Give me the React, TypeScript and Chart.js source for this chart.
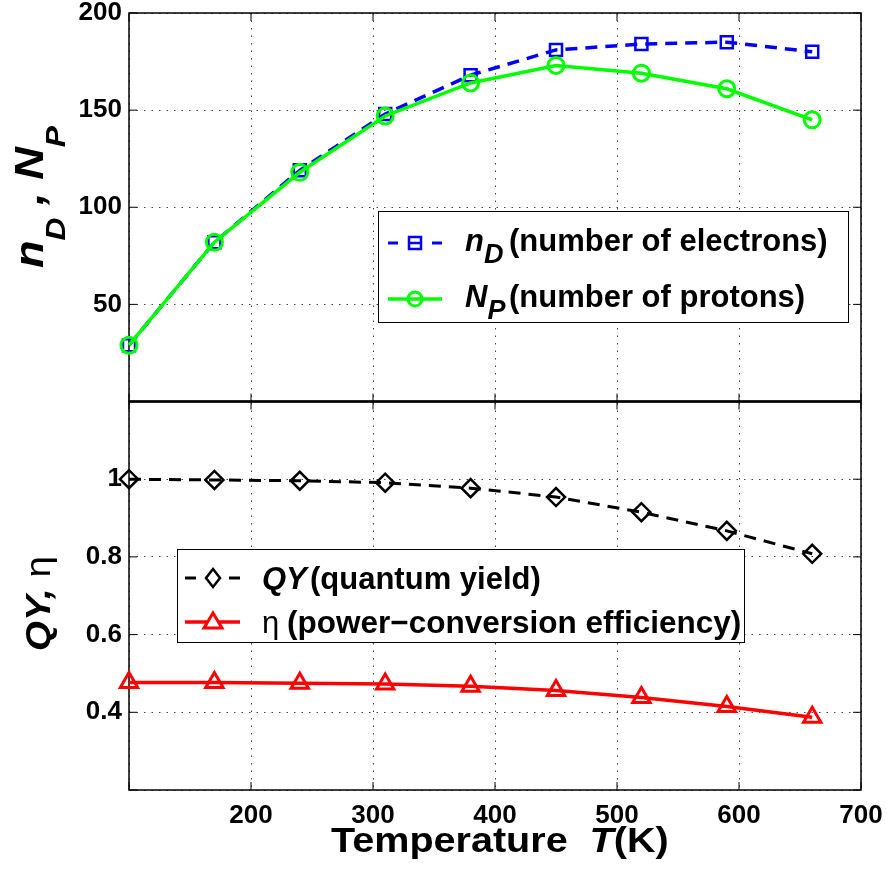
import React, { useEffect, useRef } from 'react';
import { Chart, registerables } from 'chart.js';

Chart.register(...registerables);

// ---------- data ----------
const temperatures = [100, 170, 240, 310, 380, 450, 520, 590, 660];
const electronsND = [29, 82, 119, 148, 168, 181, 184, 185, 180];
const protonsNP = [29, 82, 118, 147, 164, 173, 169, 161, 145];
const quantumYield = [1.0, 0.998, 0.996, 0.991, 0.977, 0.954, 0.915, 0.867, 0.808];
const efficiency = [0.477, 0.477, 0.475, 0.473, 0.467, 0.456, 0.438, 0.415, 0.387];

const xTickValues = [100, 200, 300, 400, 500, 600, 700];
const topTickValues = [0, 50, 100, 150, 200];
const bottomTickValues = [0.2, 0.4, 0.6, 0.8, 1.0, 1.2];

const legendTopLabels = ['(number of electrons)', '(number of protons)'];
const legendBottomLabels = ['(quantum yield)', '(power\u2212conversion efficiency)'];

const FONT = '"Liberation Sans", Arial, Helvetica, sans-serif';
const BLUE = '#0000ff';
const GREEN = '#00ff00';
const RED = '#ff0000';
const BLACK = '#000000';

const toPoints = (ys: number[]) => temperatures.map((x, i) => ({ x, y: ys[i] }));

type Part = { text: string; font: string; dy?: number };

function drawParts(ctx: CanvasRenderingContext2D, parts: Part[], x: number, y: number, rotate = false, sx = 1) {
  ctx.save();
  ctx.translate(x, y);
  if (rotate) ctx.rotate(-Math.PI / 2);
  ctx.scale(sx, 1);
  ctx.textAlign = 'left';
  ctx.textBaseline = 'alphabetic';
  ctx.fillStyle = BLACK;
  let cx = 0;
  for (const p of parts) {
    ctx.font = p.font;
    ctx.fillText(p.text, cx, p.dy || 0);
    cx += ctx.measureText(p.text).width;
  }
  ctx.restore();
}

function line(ctx: CanvasRenderingContext2D, x1: number, y1: number, x2: number, y2: number) {
  ctx.beginPath();
  ctx.moveTo(x1, y1);
  ctx.lineTo(x2, y2);
  ctx.stroke();
}

const zeroPad = (s: any) => {
  s.paddingLeft = 0;
  s.paddingRight = 0;
  s.paddingTop = 0;
  s.paddingBottom = 0;
};

const framePlugin = {
  id: 'matlabFrame',
  beforeDatasetsDraw(chart: any) {
    const ctx: CanvasRenderingContext2D = chart.ctx;
    const xs = chart.scales.x;
    const panels = [chart.scales.yTop, chart.scales.yBot];
    ctx.save();
    ctx.strokeStyle = BLACK;
    ctx.setLineDash([]);
    for (const ys of panels) {
      ctx.lineWidth = 1;
      for (const t of xTickValues) {
        const px = xs.getPixelForValue(t);
        line(ctx, px, ys.top, px, ys.top + 8);
        line(ctx, px, ys.bottom, px, ys.bottom - 8);
      }
      for (const t of ys.ticks) {
        const py = ys.getPixelForValue(t.value);
        line(ctx, xs.left, py, xs.left + 8, py);
        line(ctx, xs.right, py, xs.right - 8, py);
      }
      ctx.lineWidth = 1.5;
      ctx.strokeRect(xs.left, ys.top, xs.right - xs.left, ys.bottom - ys.top);
    }
    ctx.lineWidth = 2.5;
    line(ctx, xs.left, panels[0].bottom, xs.right, panels[0].bottom);
    ctx.restore();
  },
  afterDraw(chart: any) {
    const ctx: CanvasRenderingContext2D = chart.ctx;
    const bi = (s: number) => `italic bold ${s}px ${FONT}`;
    const b = (s: number) => `bold ${s}px ${FONT}`;
    const n = (s: number) => `${s}px ${FONT}`;

    // y-axis labels
    drawParts(ctx, [
      { text: 'n', font: bi(40) },
      { text: 'D', font: bi(28), dy: 22 },
      { text: ' , ', font: bi(40) },
      { text: 'N', font: bi(40) },
      { text: 'P', font: bi(28), dy: 22 },
    ], 43, 268, true, 1.13);
    drawParts(ctx, [
      { text: 'QY, ', font: bi(35) },
      { text: '\u03b7', font: n(35) },
    ], 50, 651, true, 1.1);

    // x-axis title
    drawParts(ctx, [
      { text: 'Temperature  ', font: b(35) },
      { text: 'T', font: bi(35) },
      { text: '(K)', font: b(35) },
    ], 331, 852, false, 1.13);

    // ---- top legend ----
    ctx.save();
    ctx.fillStyle = '#fff';
    ctx.strokeStyle = BLACK;
    ctx.lineWidth = 1;
    ctx.fillRect(378.5, 211.5, 470, 111);
    ctx.strokeRect(378.5, 211.5, 470, 111);
    let ly = 243;
    ctx.strokeStyle = BLUE;
    ctx.lineWidth = 3;
    line(ctx, 388, ly, 398, ly);
    line(ctx, 432, ly, 442, ly);
    ctx.lineWidth = 2.5;
    ctx.strokeRect(409, ly - 6, 12, 12);
    line(ctx, 409, ly, 421, ly);
    ctx.restore();
    drawParts(ctx, [
      { text: 'n', font: bi(31) },
      { text: 'D', font: bi(27), dy: 12 },
    ], 465, ly + 8);
    drawParts(ctx, [{ text: legendTopLabels[0], font: b(31) }], 509, ly + 8);
    ly = 299;
    ctx.save();
    ctx.strokeStyle = GREEN;
    ctx.lineWidth = 3.5;
    line(ctx, 388, ly, 442, ly);
    ctx.lineWidth = 3;
    ctx.beginPath();
    ctx.arc(415, ly, 7, 0, Math.PI * 2);
    ctx.stroke();
    ctx.restore();
    drawParts(ctx, [
      { text: 'N', font: bi(31) },
      { text: 'P', font: bi(27), dy: 12 },
    ], 465, ly + 8);
    drawParts(ctx, [{ text: legendTopLabels[1], font: b(31) }], 509, ly + 8);

    // ---- bottom legend ----
    ctx.save();
    ctx.fillStyle = '#fff';
    ctx.strokeStyle = BLACK;
    ctx.lineWidth = 1;
    ctx.fillRect(177.5, 549.5, 567, 93);
    ctx.strokeRect(177.5, 549.5, 567, 93);
    ly = 578;
    ctx.lineWidth = 3;
    line(ctx, 185, ly, 196, ly);
    line(ctx, 229, ly, 240, ly);
    ctx.lineWidth = 2.5;
    ctx.beginPath();
    ctx.moveTo(213, ly - 9);
    ctx.lineTo(220, ly);
    ctx.lineTo(213, ly + 9);
    ctx.lineTo(206, ly);
    ctx.closePath();
    ctx.stroke();
    ctx.restore();
    drawParts(ctx, [{ text: 'QY', font: bi(31) }], 262, ly + 11);
    drawParts(ctx, [{ text: legendBottomLabels[0], font: b(31) }], 310, ly + 11);
    ly = 622;
    ctx.save();
    ctx.strokeStyle = RED;
    ctx.lineWidth = 3.5;
    line(ctx, 185, ly, 240, ly);
    ctx.lineWidth = 3;
    ctx.fillStyle = '#fff';
    ctx.beginPath();
    ctx.moveTo(213, ly - 9);
    ctx.lineTo(222, ly + 6);
    ctx.lineTo(204, ly + 6);
    ctx.closePath();
    ctx.fill();
    ctx.stroke();
    ctx.restore();
    drawParts(ctx, [{ text: '\u03b7', font: n(31) }], 262, ly + 11);
    drawParts(ctx, [{ text: legendBottomLabels[1], font: b(31.5) }], 287, ly + 11);
  },
};

export default function App() {
  const ref = useRef<HTMLCanvasElement | null>(null);

  useEffect(() => {
    document.body.style.margin = '0';
    const canvas = ref.current;
    if (!canvas) return;
    const tickFont = { family: FONT, size: 26, weight: 'bold' as const };
    const gridCommon = { color: '#444', lineWidth: 1, drawTicks: false };
    const borderCommon = { display: false, dash: [1.5, 6] };

    const chart = new Chart(canvas, {
      type: 'line',
      data: {
        datasets: [
          {
            label: 'N_P',
            data: toPoints(protonsNP),
            yAxisID: 'yTop',
            borderColor: GREEN,
            borderWidth: 3.5,
            pointStyle: 'circle',
            pointRadius: 8,
            pointBorderWidth: 3,
            pointBorderColor: GREEN,
            pointBackgroundColor: 'rgba(0,0,0,0)',
            clip: false as any,
            order: 0,
          },
          {
            label: 'n_D',
            data: toPoints(electronsND),
            yAxisID: 'yTop',
            borderColor: BLUE,
            borderWidth: 3.5,
            borderDash: [12, 8],
            pointStyle: 'rect',
            pointRadius: 8.5,
            pointBorderWidth: 2.5,
            pointBorderColor: BLUE,
            pointBackgroundColor: 'rgba(0,0,0,0)',
            clip: false as any,
            order: 1,
          },
          {
            label: 'QY',
            data: toPoints(quantumYield),
            yAxisID: 'yBot',
            borderColor: BLACK,
            borderWidth: 3,
            borderDash: [12, 8],
            pointStyle: 'rectRot',
            pointRadius: 9,
            pointBorderWidth: 2.5,
            pointBorderColor: BLACK,
            pointBackgroundColor: 'rgba(0,0,0,0)',
            clip: false as any,
            order: 2,
          },
          {
            label: 'eta',
            data: toPoints(efficiency),
            yAxisID: 'yBot',
            borderColor: RED,
            borderWidth: 3.5,
            pointStyle: 'triangle',
            pointRadius: 10,
            pointBorderWidth: 3,
            pointBorderColor: RED,
            pointBackgroundColor: 'rgba(0,0,0,0)',
            clip: false as any,
            order: 3,
          },
        ],
      },
      options: {
        responsive: false,
        animation: false,
        devicePixelRatio: 1,
        events: [],
        layout: { padding: { left: 0, right: 26, top: 13, bottom: 0 } },
        plugins: { legend: { display: false }, tooltip: { enabled: false } },
        scales: {
          x: {
            type: 'linear',
            position: 'bottom',
            min: 100,
            max: 700,
            afterBuildTicks: (s: any) => { s.ticks = xTickValues.map((v) => ({ value: v })); },
            afterFit: (s: any) => { s.height = 85; zeroPad(s); },
            ticks: {
              font: tickFont,
              color: BLACK,
              padding: 10,
              maxRotation: 0,
              autoSkip: false,
              callback: (v: any) => (v === 100 ? '' : String(v)),
            },
            grid: gridCommon,
            border: borderCommon,
          },
          yBot: {
            type: 'linear',
            position: 'left',
            stack: 'panels',
            stackWeight: 1,
            min: 0.2,
            max: 1.2,
            afterBuildTicks: (s: any) => { s.ticks = bottomTickValues.map((v) => ({ value: v })); },
            afterFit: (s: any) => { s.width = 129; zeroPad(s); },
            ticks: {
              font: tickFont,
              color: BLACK,
              padding: 7,
              autoSkip: false,
              callback: (v: any) => {
                const num = Number(v);
                if (num < 0.3 || num > 1.1) return '';
                return Math.abs(num - 1) < 1e-9 ? '1' : num.toFixed(1);
              },
            },
            grid: gridCommon,
            border: borderCommon,
          },
          yTop: {
            type: 'linear',
            position: 'left',
            stack: 'panels',
            stackWeight: 1,
            min: 0,
            max: 200,
            afterBuildTicks: (s: any) => { s.ticks = topTickValues.map((v) => ({ value: v })); },
            afterFit: (s: any) => { s.width = 129; zeroPad(s); },
            ticks: {
              font: tickFont,
              color: BLACK,
              padding: 7,
              autoSkip: false,
              callback: (v: any) => (v === 0 ? '' : String(v)),
            },
            grid: gridCommon,
            border: borderCommon,
          },
        },
      } as any,
      plugins: [framePlugin],
    });
    return () => chart.destroy();
  }, []);

  return (
    <div style={{ width: 887, height: 875, background: '#fff' }}>
      <canvas ref={ref} width={887} height={875} style={{ display: 'block', width: 887, height: 875 }} />
    </div>
  );
}
